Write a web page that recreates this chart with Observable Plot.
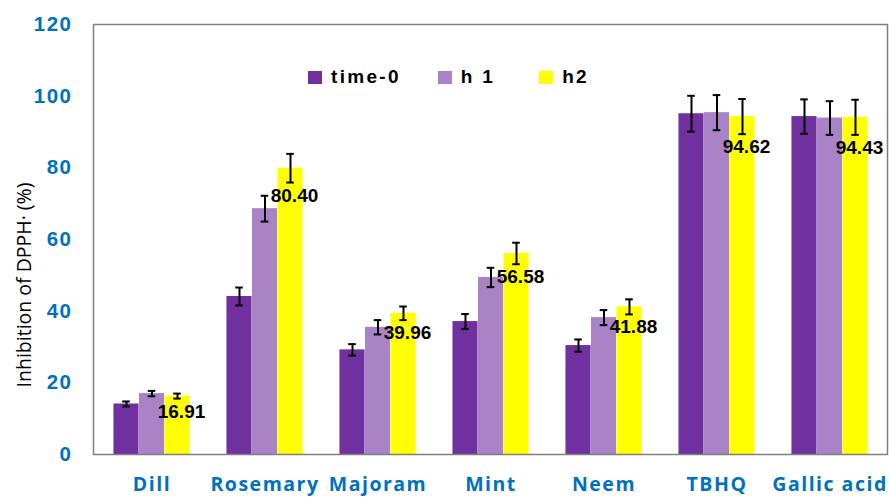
<!DOCTYPE html>
<html><head><meta charset="utf-8">
<script src="https://cdn.jsdelivr.net/npm/d3@7"></script>
<script src="https://cdn.jsdelivr.net/npm/@observablehq/plot@0.6"></script>
<style>
body{margin:0;background:#fff}
#wrap{position:relative;width:889px;height:500px;overflow:hidden}
#ytitle{position:absolute;left:23px;top:285px;transform:translate(-50%,-50%) rotate(-90deg);white-space:nowrap;font-family:"Open Sans",sans-serif;font-size:19.5px;color:#000}
#legend{position:absolute;top:66px;left:308px;display:flex;align-items:center;font-family:"Liberation Sans",Arial,sans-serif;font-weight:bold;font-size:19px;letter-spacing:2.3px;color:#000}
#legend .sw{display:inline-block;width:14px;height:13px;margin-right:9px}
#legend .it{display:flex;align-items:center}
</style>
</head><body><div id="wrap"></div>
<script>
const categories = ["Dill","Rosemary","Majoram","Mint","Neem","TBHQ","Gallic acid"];
const seriesNames = ["time-0","h 1","h2"];
const seriesColors = ["#7030A0","#A983C6","#FFFF00"];
const time0 = [14.1,44.1,29.2,37.1,30.4,95.1,94.3];
const time0Err = [0.7,2.5,1.6,2.1,1.7,5.0,4.8];
const h1 = [17.0,68.6,35.5,49.4,38.2,95.4,93.9];
const h1Err = [0.75,3.6,2.0,2.7,2.1,4.9,4.7];
const h2 = [16.3,79.9,39.4,56.1,41.2,94.3,94.1];
const h2Err = [0.7,4.0,1.9,3.0,2.1,4.9,4.9];
const h2Labels = ["16.91","80.40","39.96","56.58","41.88","94.62","94.43"];
const yTicks = [0,20,40,60,80,100,120];

const W = 889, H = 500, mL = 93, mR = 2, mT = 24, mB = 46;
const bw = (W - mL - mR) / categories.length;
const barW = 25.5, capW = 8;
const side = (bw - barW) / 2;

const seriesData = [
  categories.map((c,i)=>({cat:c, v:time0[i], e:time0Err[i]})),
  categories.map((c,i)=>({cat:c, v:h1[i], e:h1Err[i]})),
  categories.map((c,i)=>({cat:c, v:h2[i], e:h2Err[i], lab:h2Labels[i]}))
];

const marks = [];
seriesData.forEach((data, s) => {
  const off = (s - 1) * barW;
  marks.push(Plot.barY(data, {x:"cat", y:"v", fill: seriesColors[s], insetLeft: side + off, insetRight: side - off}));
});
seriesData.forEach((data, s) => {
  const off = (s - 1) * barW;
  marks.push(Plot.ruleX(data, {x:"cat", y1: d=>d.v-d.e, y2: d=>d.v+d.e, dx: off, stroke:"#000", strokeWidth:2}));
  marks.push(Plot.tickY(data, {x:"cat", y: d=>d.v+d.e, insetLeft: bw/2 - capW/2 + off, insetRight: bw/2 - capW/2 - off, stroke:"#000", strokeWidth:2}));
  marks.push(Plot.tickY(data, {x:"cat", y: d=>d.v-d.e, insetLeft: bw/2 - capW/2 + off, insetRight: bw/2 - capW/2 - off, stroke:"#000", strokeWidth:2}));
});
marks.push(Plot.text(seriesData[2], {x:"cat", y: d=>d.v-d.e, text:"lab", dx: barW + 4, dy: 13, fill:"#000", fontWeight:"bold", fontSize:19, fontFamily:"Liberation Sans, Arial, sans-serif"}));
marks.push(Plot.frame({stroke:"#7f7f7f", strokeWidth:1.5}));
marks.push(Plot.text(yTicks, {y: d=>d, text: d=>String(d), frameAnchor:"left", textAnchor:"end", dx:-21, fill:"#0070C0", fontWeight:"bold", fontSize:20.5, fontFamily:"Liberation Sans, Arial, sans-serif"}));
marks.push(Plot.text(categories, {x: d=>d, text: d=>d, frameAnchor:"bottom", dy:36, fill:"#0070C0", fontWeight:"bold", fontSize:19.5, fontFamily:"Open Sans, sans-serif"}));

const chart = Plot.plot({
  width: W, height: H,
  marginLeft: mL, marginRight: mR, marginTop: mT, marginBottom: mB,
  x: {domain: categories, padding: 0, axis: null},
  y: {domain: [0,120], axis: null},
  style: {background:"#fff"},
  marks
});
chart.querySelectorAll("g[fill='#0070C0'] text").forEach(t=>{ t.style.letterSpacing = "1.5px"; });
const wrap = document.getElementById("wrap");
wrap.appendChild(chart);

const yt = document.createElement("div");
yt.id = "ytitle"; yt.textContent = "Inhibition of DPPH· (%)";
wrap.appendChild(yt);

const lg = document.createElement("div");
lg.id = "legend";
seriesNames.forEach((n,i)=>{
  const it = document.createElement("div"); it.className="it";
  it.style.marginRight = ["37px","44px","0"][i];
  const sw = document.createElement("span"); sw.className="sw"; sw.style.background = seriesColors[i];
  const tx = document.createElement("span"); tx.textContent = n;
  it.appendChild(sw); it.appendChild(tx); lg.appendChild(it);
});
wrap.appendChild(lg);
</script>
</body></html>
